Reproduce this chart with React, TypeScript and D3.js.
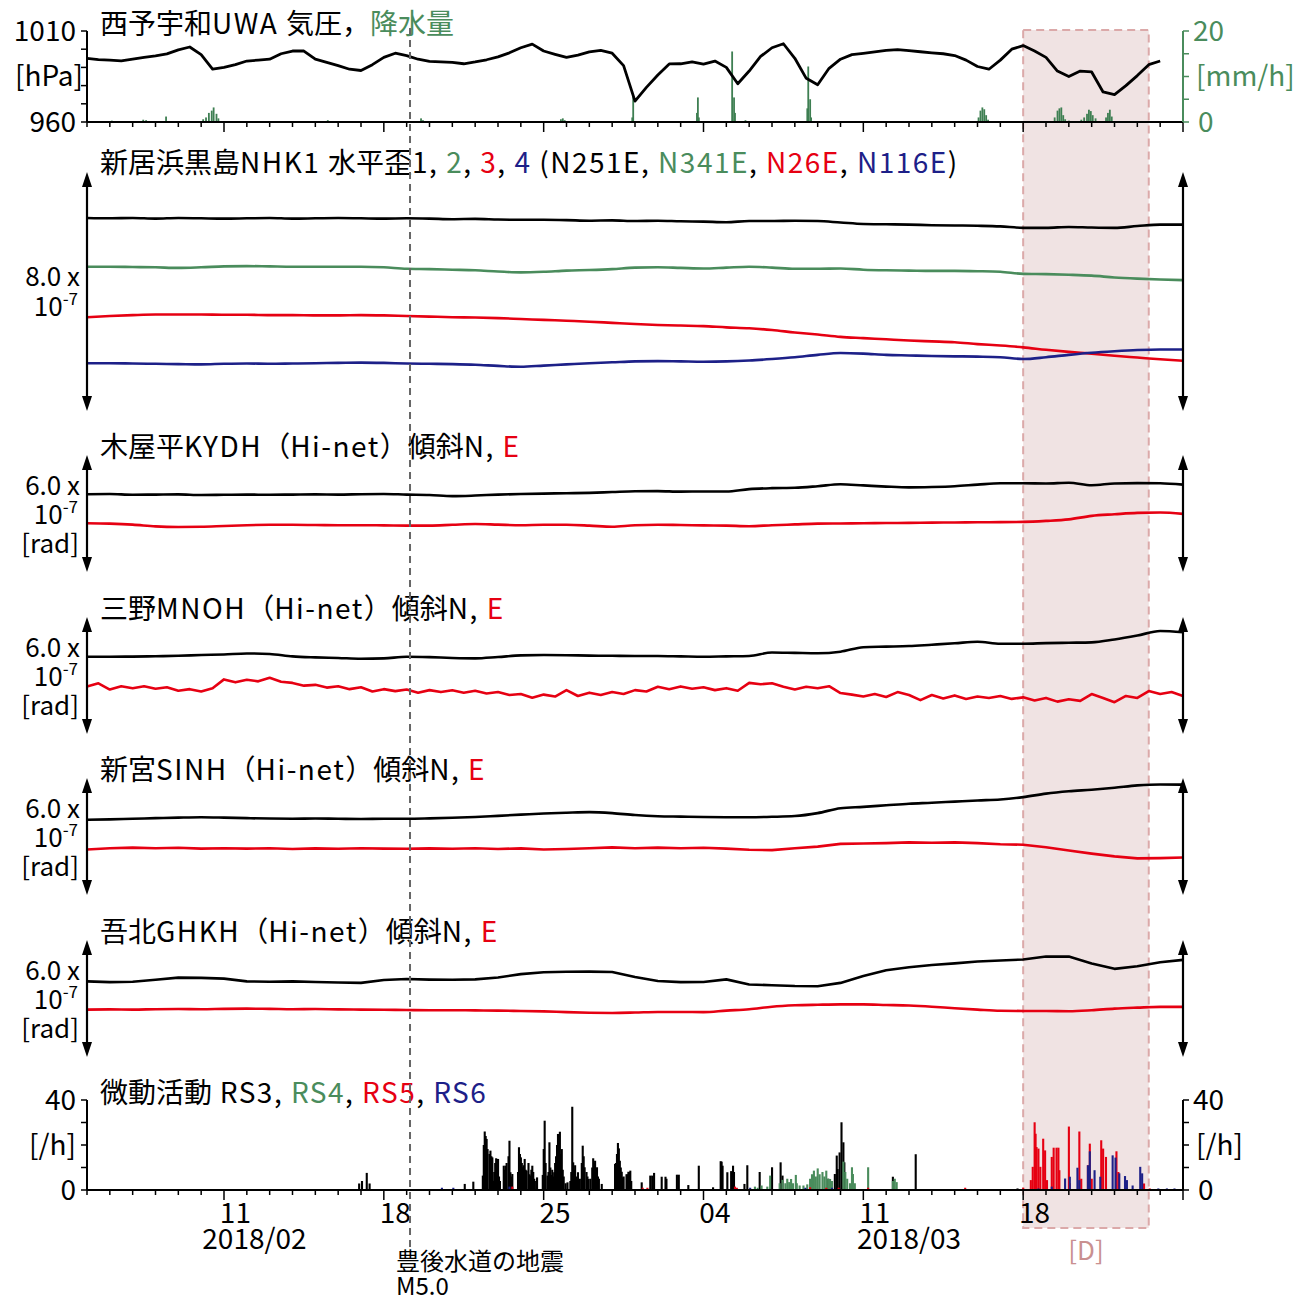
import React from "react";
import * as d3 from "d3";

const FONT = "'Noto Sans CJK JP', 'Noto Sans CJK SC', 'Noto Sans', sans-serif";
const BLACK = "#000000";
const GREEN = "#4a8c5c";
const RAIN_GREEN = "#3e7f52";
const RED = "#e60012";
const BLUE = "#1d2088";
const D_COLOR = "#c99090";

// time axis
const START = "2018-02-05T00:00:00Z";
const END = "2018-03-25T00:00:00Z";
const QUAKE = "2018-02-19T03:31:00Z";
const BOX_D_START = "2018-03-18T00:00:00Z";
const BOX_D_END = "2018-03-23T12:00:00Z";
const MONTH_LABELS = [
  { text: "2018/02", at: "2018-02-12T08:00:00Z" },
  { text: "2018/03", at: "2018-03-13T00:00:00Z" },
];

// 西予宇和 気圧 [hPa], every 12 h from 2018-02-05 00:00
const pressure12h = [
  995.0, 994.3, 994.0, 993.6, 994.5, 995.5, 996.3, 997.4, 999.6, 1001.2,
  997.0, 989.0, 990.0, 991.5, 993.5, 994.0, 994.5, 997.5, 999.0, 999.0,
  994.5, 992.8, 991.0, 989.0, 988.3, 991.5, 995.5, 997.8, 996.5, 994.5,
  993.3, 993.0, 992.8, 992.0, 993.0, 994.2, 995.8, 998.0, 1000.8, 1002.8,
  999.0, 997.2, 995.5, 996.8, 998.5, 999.3, 997.8, 991.0, 971.5, 979.0,
  985.8, 991.9, 992.0, 993.0, 991.8, 993.5, 990.0, 981.0, 988.0, 996.0,
  1000.8, 1003.0, 995.0, 984.0, 980.5, 989.5, 994.5, 997.0, 997.7, 998.5,
  999.3, 999.8, 999.2, 998.6, 998.0, 997.5, 996.5, 994.0, 990.5, 989.0,
  994.0, 1000.0, 1002.0, 999.0, 995.5, 988.0, 985.0, 988.0, 987.5, 976.5,
  975.0, 980.0, 985.5, 991.5, 993.5,
];

// 降水量 [mm/h]: [hour since start, value]
const rainfall: [number, number][] = [
  [26, 0.3], [59, 0.5], [62, 0.4], [83, 1.2], [122, 0.6], [125, 1.0], [128, 2.0], [131, 2.5],
  [133, 3.2], [136, 1.8], [138, 0.8], [205, 0.2], [253, 0.4], [351, 0.8], [353, 0.4],
  [498, 0.6], [500, 0.8], [502, 0.4], [573, 1.0], [574, 5.6], [641, 2.0], [642, 5.4], [643, 1.0],
  [678, 15.5], [680, 5.4], [681, 2.0], [692, 0.4], [757, 3.0], [758, 12.2], [760, 5.0], [761, 1.0],
  [937, 1.0], [939, 2.5], [941, 3.2], [943, 2.8], [945, 1.5], [947, 0.5],
  [1017, 1.0], [1020, 2.5], [1022, 3.0], [1024, 3.2], [1026, 1.5], [1028, 0.6], [1032, 0.3],
  [1045, 0.5], [1048, 1.0], [1051, 1.8], [1053, 2.7], [1055, 2.4], [1057, 1.5], [1060, 0.8],
  [1071, 1.0], [1073, 2.0], [1075, 2.7], [1077, 1.2],
];

// 新居浜黒島 水平歪 (x 1e-7, relative), daily
const strain1 = [
  6.46, 6.45, 6.46, 6.44, 6.46, 6.45, 6.44, 6.45, 6.46, 6.44,
  6.45, 6.46, 6.45, 6.44, 6.45, 6.44, 6.42, 6.43, 6.41, 6.40,
  6.40, 6.39, 6.37, 6.38, 6.36, 6.37, 6.35, 6.34, 6.32, 6.36,
  6.36, 6.37, 6.36, 6.31, 6.26, 6.25, 6.24, 6.22, 6.21, 6.20,
  6.18, 6.13, 6.13, 6.16, 6.14, 6.13, 6.19, 6.24, 6.24,
];
const strain2 = [
  4.83, 4.83, 4.82, 4.81, 4.79, 4.81, 4.84, 4.85, 4.84, 4.83,
  4.83, 4.83, 4.83, 4.81, 4.76, 4.75, 4.73, 4.71, 4.67, 4.64,
  4.66, 4.70, 4.72, 4.75, 4.80, 4.81, 4.79, 4.77, 4.80, 4.83,
  4.80, 4.76, 4.76, 4.77, 4.73, 4.71, 4.70, 4.69, 4.69, 4.68,
  4.66, 4.59, 4.58, 4.56, 4.53, 4.47, 4.43, 4.40, 4.38,
];
const strain3 = [
  3.14, 3.18, 3.21, 3.23, 3.23, 3.23, 3.22, 3.22, 3.21, 3.21,
  3.20, 3.20, 3.21, 3.20, 3.18, 3.16, 3.14, 3.13, 3.11, 3.08,
  3.05, 3.02, 2.99, 2.95, 2.91, 2.88, 2.86, 2.84, 2.80, 2.77,
  2.71, 2.63, 2.56, 2.48, 2.44, 2.40, 2.36, 2.33, 2.30, 2.24,
  2.19, 2.13, 2.05, 1.98, 1.92, 1.85, 1.79, 1.73, 1.68,
];
const strain4 = [
  1.60, 1.60, 1.59, 1.58, 1.57, 1.56, 1.58, 1.59, 1.58, 1.59,
  1.60, 1.61, 1.62, 1.61, 1.59, 1.58, 1.57, 1.55, 1.51, 1.48,
  1.52, 1.56, 1.60, 1.63, 1.66, 1.67, 1.66, 1.65, 1.66, 1.69,
  1.74, 1.80, 1.88, 1.94, 1.92, 1.88, 1.86, 1.84, 1.83, 1.82,
  1.80, 1.74, 1.80, 1.88, 1.95, 2.00, 2.04, 2.06, 2.06,
];

// Hi-net 傾斜 (x 1e-7 rad, relative), daily
const kydhN = [
  3.99, 4.00, 3.96, 3.97, 3.98, 3.95, 3.96, 3.97, 3.96, 3.97,
  3.98, 3.97, 3.99, 4.00, 3.97, 3.95, 3.89, 3.92, 3.97, 4.00,
  4.02, 4.04, 4.06, 4.10, 4.14, 4.15, 4.12, 4.13, 4.13, 4.25,
  4.30, 4.32, 4.40, 4.50, 4.44, 4.38, 4.34, 4.36, 4.40, 4.48,
  4.55, 4.55, 4.54, 4.58, 4.45, 4.54, 4.56, 4.55, 4.48,
];
const kydhE = [
  2.50, 2.48, 2.43, 2.34, 2.31, 2.32, 2.36, 2.40, 2.42, 2.42,
  2.41, 2.40, 2.40, 2.39, 2.38, 2.38, 2.42, 2.46, 2.43, 2.40,
  2.42, 2.42, 2.38, 2.32, 2.40, 2.42, 2.41, 2.39, 2.38, 2.35,
  2.40, 2.44, 2.48, 2.49, 2.50, 2.51, 2.52, 2.53, 2.54, 2.55,
  2.56, 2.57, 2.62, 2.70, 2.88, 2.96, 3.03, 3.05, 2.98,
];
const mnohN = [
  3.96, 3.96, 3.97, 3.99, 4.01, 4.05, 4.08, 4.13, 4.10, 3.98,
  3.93, 3.90, 3.86, 3.88, 3.96, 3.94, 3.90, 3.88, 3.95, 4.03,
  4.05, 4.04, 4.02, 4.01, 4.00, 4.00, 3.98, 3.96, 3.98, 4.00,
  4.18, 4.16, 4.14, 4.22, 4.45, 4.48, 4.51, 4.58, 4.65, 4.73,
  4.63, 4.63, 4.66, 4.68, 4.70, 4.85, 5.05, 5.28, 5.22,
];
// 三野 E, every 12 h
const mnohE12h = [
  2.43, 2.60, 2.28, 2.45, 2.35, 2.45, 2.32, 2.40, 2.22, 2.30,
  2.18, 2.35, 2.80, 2.65, 2.78, 2.70, 2.88, 2.68, 2.62, 2.48,
  2.52, 2.38, 2.45, 2.30, 2.40, 2.18, 2.30, 2.20, 2.28, 2.12,
  2.25, 2.15, 2.24, 2.12, 2.22, 2.08, 2.15, 2.00, 2.05, 1.86,
  2.02, 1.92, 2.25, 1.95, 2.12, 2.00, 2.15, 2.05, 2.25, 2.18,
  2.42, 2.30, 2.44, 2.32, 2.40, 2.25, 2.35, 2.22, 2.62, 2.55,
  2.60, 2.42, 2.28, 2.42, 2.35, 2.45, 2.10, 2.02, 1.92, 2.05,
  1.90, 2.15, 2.00, 1.74, 2.00, 1.82, 1.98, 1.80, 1.92, 1.85,
  1.95, 1.80, 1.88, 1.72, 1.85, 1.66, 1.78, 1.70, 2.05, 1.85,
  1.63, 1.95, 1.85, 2.20, 2.05, 2.15, 1.95,
];
const sinhN = [
  3.86, 3.88, 3.91, 3.94, 3.97, 3.99, 3.97, 3.94, 3.92, 3.91,
  3.92, 3.91, 3.90, 3.91, 3.91, 3.93, 3.96, 4.00, 4.06, 4.12,
  4.18, 4.22, 4.25, 4.20, 4.10, 4.04, 4.02, 4.00, 3.99, 3.99,
  4.01, 4.05, 4.20, 4.45, 4.52, 4.60, 4.68, 4.73, 4.79, 4.85,
  4.90, 5.02, 5.20, 5.32, 5.40, 5.50, 5.62, 5.67, 5.66,
];
const sinhE = [
  2.33, 2.40, 2.43, 2.40, 2.42, 2.38, 2.40, 2.38, 2.40, 2.36,
  2.39, 2.37, 2.40, 2.38, 2.37, 2.39, 2.37, 2.40, 2.36, 2.39,
  2.33, 2.36, 2.40, 2.44, 2.40, 2.43, 2.40, 2.42, 2.38, 2.32,
  2.30, 2.40, 2.48, 2.62, 2.64, 2.66, 2.70, 2.68, 2.70, 2.66,
  2.60, 2.58, 2.45, 2.28, 2.12, 1.98, 1.88, 1.89, 1.92,
];
const ghkhN = [
  3.88, 3.84, 3.86, 3.96, 4.07, 4.06, 4.02, 3.88, 3.86, 3.88,
  3.85, 3.82, 3.80, 3.95, 4.00, 3.97, 3.96, 3.98, 4.08, 4.25,
  4.35, 4.37, 4.38, 4.36, 4.10, 3.90, 3.84, 3.85, 3.98, 3.72,
  3.68, 3.64, 3.63, 3.80, 4.15, 4.45, 4.60, 4.72, 4.80, 4.90,
  4.95, 5.00, 5.15, 5.15, 4.80, 4.52, 4.65, 4.86, 4.98,
];
const ghkhE = [
  2.43, 2.44, 2.43, 2.45, 2.46, 2.45, 2.47, 2.48, 2.47, 2.45,
  2.46, 2.44, 2.43, 2.42, 2.41, 2.40, 2.40, 2.39, 2.38, 2.36,
  2.34, 2.30, 2.27, 2.26, 2.28, 2.31, 2.31, 2.30, 2.38, 2.45,
  2.58, 2.65, 2.68, 2.70, 2.70, 2.67, 2.64, 2.58, 2.50, 2.43,
  2.37, 2.36, 2.36, 2.35, 2.40, 2.48, 2.53, 2.57, 2.57,
];

// 微動活動 [/h]: [hour since start, count]
const rs3: [number, number][] = [
  [286, 2.9], [289, 4.0], [294, 7.6], [297, 2.9],
  [397, 2.7], [406, 3.7], [416, 6.4], [417, 20], [418, 26], [419, 24], [420, 22.7], [421, 18.2], [423, 16],
  [424, 17.5], [425, 15], [426, 14.5], [427, 4.1], [428, 8], [429, 12], [430, 14.1], [431, 10], [432, 13.8],
  [433, 6], [434, 4],
  [438, 10.8], [439, 9], [440, 10.8], [441, 12], [443, 15], [444, 21.9], [445, 7.9], [446, 6], [447, 7.1],
  [453, 8], [454, 19], [455, 16], [456, 14.5], [457, 12], [458, 10.1], [459, 11], [460, 13.8], [461, 9],
  [462, 8.6], [464, 12], [465, 7], [466, 6.4], [467, 9], [468, 10.8], [469, 8], [470, 5], [472, 4], [473, 5.6],
  [479, 6.7], [480, 18.2], [481, 30.8], [482, 12], [484, 6.4], [485, 8], [486, 21.2], [487, 10], [488, 6.7],
  [489, 9], [490, 6], [491, 7.9], [492, 12], [493, 15], [494, 20], [495, 24.9], [496, 22], [497, 25.9],
  [498, 16], [499, 18.2], [500, 9], [501, 6], [503, 3],
  [505, 3.4], [508, 4], [509, 8], [510, 37], [511, 12.3], [512, 9], [513, 11], [515, 6], [516, 7.9], [518, 5],
  [520, 12], [521, 19.7], [522, 15], [523, 10.1], [525, 8], [526, 6], [527, 4.9], [529, 5], [531, 10],
  [532, 14.1], [533, 12], [534, 13], [535, 9], [536, 10.1], [537, 6], [538, 5], [541, 2.7],
  [555, 11.6], [556, 12], [557, 16], [558, 20.9], [559, 18.5], [560, 13], [561, 10], [562, 8.1], [563, 5.6],
  [564, 6], [567, 7], [568, 7], [569, 8.1], [570, 8], [571, 8.6], [572, 4],
  [583, 3.4], [592, 6.4], [594, 6.4], [596, 7.6], [604, 5.9], [608, 5.9], [609, 5], [620, 6.8], [622, 6.8],
  [632, 2.2], [643, 10.8], [658, 1.2], [666, 12.8], [667, 12.6], [668, 10.8], [673, 7.9], [677, 8.4],
  [679, 10.8], [680, 8], [691, 2.7], [694, 11], [707, 8], [720, 10.1], [729, 12.3], [731, 6.4],
  [779, 5], [786, 7.1], [788, 15.3], [789, 9.3], [791, 16.7], [793, 30.1], [795, 21.2], [796, 12.3],
  [847, 5.9], [871, 15.9], [978, 0.7],
];
const rs4: [number, number][] = [
  [702, 1.5], [705, 1], [709, 2], [715, 1.5], [718, 6.4], [728, 3], [731, 4.5], [734, 3], [736, 5],
  [738, 3.5], [740, 4.9], [742, 3], [745, 6.7], [746, 3], [749, 2], [753, 2], [757, 2.5], [760, 5],
  [762, 7], [764, 8.6], [766, 6], [768, 9.6], [770, 7], [773, 8], [775, 6], [777, 8.6], [779, 5],
  [781, 4.9], [783, 4], [795, 12.6], [797, 8], [799, 5], [802, 3], [804, 10.1], [805, 7.1], [807, 3],
  [821, 10.1], [847, 4], [849, 5], [851, 3.5],
];
const rs5: [number, number][] = [
  [447, 1.5], [584, 1], [589, 1], [681, 1.5], [683, 1], [760, 1.2], [777, 1], [790, 1], [821, 1],
  [923, 1], [984, 1],
  [992, 4.4], [994, 10.3], [996, 30.1], [997, 25], [998, 19.1], [1000, 18.4], [1002, 10.3], [1005, 22.8],
  [1007, 17.6], [1009, 4.4], [1014, 14.7], [1016, 18.8], [1019, 18.8], [1021, 18.8], [1022, 8.8],
  [1032, 28.2], [1033, 3], [1043, 26], [1045, 5], [1052, 11], [1054, 20.6], [1056, 5], [1066, 22.1],
  [1068, 18.4], [1071, 14.7], [1082, 17.2], [1084, 8], [1111, 2.9], [1117, 0.7],
];
const rs6: [number, number][] = [
  [373, 1], [385, 1], [444, 1.5], [697, 1], [755, 1], [783, 1],
  [1000, 0.7], [1014, 1.5], [1028, 5.1], [1033, 5.9], [1041, 9.9], [1043, 4.4], [1052, 11], [1054, 17.2],
  [1059, 8.8], [1065, 5.9], [1078, 15.4], [1081, 14.4], [1085, 7.4], [1091, 6.2], [1093, 4.4], [1099, 2],
  [1107, 10.3], [1109, 7.4], [1126, 0.7], [1135, 0.7], [1143, 0.7],
];

type Seg = { t: string; c: string };

const CJK_RUN = /[\u3000-\u9fff\uff00-\uffef]+|[^\u3000-\u9fff\uff00-\uffef]+/g;
const isCJK = (s: string) => /[\u3000-\u9fff\uff00-\uffef]/.test(s);

function Title({ y, segs }: { y: number; segs: Seg[] }) {
  const runs: { t: string; c: string; cjk: boolean }[] = [];
  segs.forEach((s) => {
    (s.t.match(CJK_RUN) || []).forEach((r) => runs.push({ t: r, c: s.c, cjk: isCJK(r) }));
  });
  return (
    <text x={100} y={y} fontSize={28} fontFamily={FONT} style={{ whiteSpace: "pre" }}>
      {runs.map((r, i) => (
        <tspan key={i} fill={r.c} letterSpacing={r.cjk ? 0 : 1.5}>
          {r.t}
        </tspan>
      ))}
    </text>
  );
}

function Arrow({ x, y1, y2 }: { x: number; y1: number; y2: number }) {
  const h = 15;
  const w = 5;
  return (
    <g>
      <line x1={x} x2={x} y1={y1 + 6} y2={y2 - 6} stroke={BLACK} strokeWidth={2.2} />
      <polygon points={`${x},${y1} ${x - w},${y1 + h} ${x + w},${y1 + h}`} fill={BLACK} />
      <polygon points={`${x},${y2} ${x - w},${y2 - h} ${x + w},${y2 - h}`} fill={BLACK} />
    </g>
  );
}

export default function App() {
  const t0 = new Date(START).getTime();
  const tEnd = new Date(END).getTime();
  const x = d3.scaleUtc().domain([new Date(t0), new Date(tEnd)]).range([87, 1183]);
  const atStep = (step: number) => (_: number, i: number) => x(new Date(t0 + i * step));
  const hourX = (h: number) => x(new Date(t0 + h * 3600000));
  const DAY = 86400000;

  const yP = d3.scaleLinear().domain([960, 1010]).range([122, 31]);
  const yR = d3.scaleLinear().domain([0, 20]).range([122, 31]);
  const yS = d3.scaleLinear().domain([0, 8]).range([411, 172]);
  const yQ = d3.scaleLinear().domain([0, 40]).range([1190, 1100]);

  const mkPath = (vals: number[], y: d3.ScaleLinear<number, number>, step: number, curve: d3.CurveFactory) =>
    d3.line<number>().x(atStep(step)).y((v) => y(v)).curve(curve)(vals) || "";

  const days = d3.utcDay.range(new Date(t0), new Date(tEnd + 1));
  const weeks = d3.utcSunday.range(new Date(t0), new Date(tEnd + 1));
  const weekSet = new Set(weeks.map((w) => w.getTime()));
  const fmtDay = d3.utcFormat("%d");

  const tilt = [
    { top: 455, name: "木屋平KYDH（Hi-net）傾斜N, ", n: kydhN, e: kydhE, eStep: DAY, nCurve: d3.curveMonotoneX, eCurve: d3.curveMonotoneX },
    { top: 617, name: "三野MNOH（Hi-net）傾斜N, ", n: mnohN, e: mnohE12h, eStep: DAY / 2, nCurve: d3.curveMonotoneX, eCurve: d3.curveLinear },
    { top: 778, name: "新宮SINH（Hi-net）傾斜N, ", n: sinhN, e: sinhE, eStep: DAY, nCurve: d3.curveMonotoneX, eCurve: d3.curveLinear },
    { top: 940, name: "吾北GHKH（Hi-net）傾斜N, ", n: ghkhN, e: ghkhE, eStep: DAY, nCurve: d3.curveLinear, eCurve: d3.curveMonotoneX },
  ];

  const xD1 = x(new Date(BOX_D_START));
  const xD2 = x(new Date(BOX_D_END));
  const xQ = x(new Date(QUAKE));

  const bottomAxis = (y: number, key: string) => (
    <g key={key}>
      {days.map((d) => {
        const major = weekSet.has(d.getTime());
        return (
          <line key={d.getTime()} x1={x(d)} x2={x(d)} y1={y} y2={y + (major ? 10 : 5)} stroke={BLACK} strokeWidth={1.5} />
        );
      })}
      <line x1={87} x2={1183} y1={y} y2={y} stroke={BLACK} strokeWidth={2.2} />
    </g>
  );

  const bars = (data: [number, number][], color: string, key: string) => (
    <g key={key}>
      {data.map(([h, c], i) => (
        <rect key={i} x={hourX(h) - 1} width={2.1} y={yQ(c)} height={yQ(0) - yQ(c)} fill={color} />
      ))}
    </g>
  );

  const tickFont = { fontSize: 28, fontFamily: FONT };
  const sideFont = { fontSize: 26, fontFamily: FONT };

  return (
    <svg
      width={1301}
      height={1304}
      viewBox="0 0 1301 1304"
      style={{ position: "absolute", left: 0, top: 0, background: "#fff" }}
    >
      <rect x={0} y={0} width={1301} height={1304} fill="#fff" />

      {/* box D */}
      <rect
        x={xD1}
        y={30}
        width={xD2 - xD1}
        height={1198}
        fill="#f0e3e3"
        stroke="#dba9a9"
        strokeWidth={2}
        strokeDasharray="8 5"
      />

      {/* Panel 1: pressure & rain */}
      <Title y={34} segs={[{ t: "西予宇和UWA 気圧，", c: BLACK }, { t: "降水量", c: GREEN }]} />
      {rainfall.map(([h, v], i) => (
        <rect key={i} x={hourX(h) - 0.8} width={1.8} y={yR(v)} height={yR(0) - yR(v)} fill={RAIN_GREEN} />
      ))}
      <path d={mkPath(pressure12h, yP, DAY / 2, d3.curveLinear)} fill="none" stroke={BLACK} strokeWidth={2.8} strokeLinejoin="round" />
      {bottomAxis(122, "ax1")}
      <line x1={87} x2={87} y1={31} y2={122} stroke={BLACK} strokeWidth={2} />
      {[960, 970, 980, 990, 1000, 1010].map((v) => (
        <line key={v} x1={81} x2={87} y1={yP(v)} y2={yP(v)} stroke={BLACK} strokeWidth={1.5} />
      ))}
      <line x1={1183} x2={1183} y1={31} y2={122} stroke={GREEN} strokeWidth={2} />
      {[0, 5, 10, 15, 20].map((v) => (
        <line key={v} x1={1183} x2={1189} y1={yR(v)} y2={yR(v)} stroke={GREEN} strokeWidth={1.5} />
      ))}
      <text x={76} y={41} textAnchor="end" {...tickFont}>1010</text>
      <text x={83} y={86} textAnchor="end" {...tickFont}>[hPa]</text>
      <text x={76} y={132} textAnchor="end" {...tickFont}>960</text>
      <text x={1193} y={41} fill={GREEN} {...tickFont}>20</text>
      <text x={1196} y={86} fill={GREEN} {...tickFont}>[mm/h]</text>
      <text x={1198} y={132} fill={GREEN} {...tickFont}>0</text>

      {/* Panel 2: strain */}
      <Title
        y={173}
        segs={[
          { t: "新居浜黒島NHK1 水平歪1, ", c: BLACK },
          { t: "2", c: GREEN },
          { t: ", ", c: BLACK },
          { t: "3", c: RED },
          { t: ", ", c: BLACK },
          { t: "4", c: BLUE },
          { t: " (N251E, ", c: BLACK },
          { t: "N341E", c: GREEN },
          { t: ", ", c: BLACK },
          { t: "N26E", c: RED },
          { t: ", ", c: BLACK },
          { t: "N116E", c: BLUE },
          { t: ")", c: BLACK },
        ]}
      />
      {[
        { v: strain1, c: BLACK },
        { v: strain2, c: GREEN },
        { v: strain3, c: RED },
        { v: strain4, c: BLUE },
      ].map((s, i) => (
        <path key={i} d={mkPath(s.v, yS, DAY, d3.curveMonotoneX)} fill="none" stroke={s.c} strokeWidth={2.6} />
      ))}
      <Arrow x={87} y1={172} y2={411} />
      <Arrow x={1183} y1={172} y2={411} />
      <text x={80} y={286} textAnchor="end" {...sideFont}>8.0 x</text>
      <text x={78} y={316} textAnchor="end" {...sideFont}>
        10<tspan fontSize={17} dy={-11}>-7</tspan>
      </text>

      {/* Tilt panels */}
      {tilt.map((p, k) => {
        const y = d3.scaleLinear().domain([0, 6]).range([p.top + 117, p.top]);
        return (
          <g key={k}>
            <Title y={p.top + 2} segs={[{ t: p.name, c: BLACK }, { t: "E", c: RED }]} />
            <path d={mkPath(p.n, y, DAY, p.nCurve)} fill="none" stroke={BLACK} strokeWidth={2.6} strokeLinejoin="round" />
            <path d={mkPath(p.e, y, p.eStep, p.eCurve)} fill="none" stroke={RED} strokeWidth={2.6} strokeLinejoin="round" />
            <Arrow x={87} y1={p.top} y2={p.top + 117} />
            <Arrow x={1183} y1={p.top} y2={p.top + 117} />
            <text x={80} y={p.top + 40} textAnchor="end" {...sideFont}>6.0 x</text>
            <text x={78} y={p.top + 69} textAnchor="end" {...sideFont}>
              10<tspan fontSize={17} dy={-11}>-7</tspan>
            </text>
            <text x={79} y={p.top + 98} textAnchor="end" {...sideFont}>[rad]</text>
          </g>
        );
      })}

      {/* Tremor panel */}
      <Title
        y={1103}
        segs={[
          { t: "微動活動 RS3, ", c: BLACK },
          { t: "RS4", c: GREEN },
          { t: ", ", c: BLACK },
          { t: "RS5", c: RED },
          { t: ", ", c: BLACK },
          { t: "RS6", c: BLUE },
        ]}
      />
      {bars(rs3, BLACK, "rs3")}
      {bars(rs4, GREEN, "rs4")}
      {bars(rs5, RED, "rs5")}
      {bars(rs6, BLUE, "rs6")}
      {bottomAxis(1190, "ax2")}
      <line x1={87} x2={87} y1={1100} y2={1190} stroke={BLACK} strokeWidth={2} />
      <line x1={1183} x2={1183} y1={1100} y2={1190} stroke={BLACK} strokeWidth={2} />
      {[0, 10, 20, 30, 40].map((v) => (
        <g key={v}>
          <line x1={81} x2={87} y1={yQ(v)} y2={yQ(v)} stroke={BLACK} strokeWidth={1.5} />
          <line x1={1183} x2={1189} y1={yQ(v)} y2={yQ(v)} stroke={BLACK} strokeWidth={1.5} />
        </g>
      ))}
      <text x={76} y={1110} textAnchor="end" {...tickFont}>40</text>
      <text x={76} y={1155} textAnchor="end" {...tickFont}>[/h]</text>
      <text x={76} y={1200} textAnchor="end" {...tickFont}>0</text>
      <text x={1193} y={1110} {...tickFont}>40</text>
      <text x={1196} y={1155} {...tickFont}>[/h]</text>
      <text x={1198} y={1200} {...tickFont}>0</text>

      {weeks
        .filter((w) => w.getTime() < tEnd)
        .map((w) => (
          <text key={w.getTime()} x={x(new Date(w.getTime() + DAY / 2))} y={1223} textAnchor="middle" {...tickFont}>
            {fmtDay(w)}
          </text>
        ))}
      {MONTH_LABELS.map((m) => (
        <text key={m.text} x={x(new Date(m.at))} y={1249} textAnchor="middle" {...tickFont}>
          {m.text}
        </text>
      ))}

      {/* earthquake */}
      <line x1={xQ} x2={xQ} y1={28} y2={1248} stroke="#666" strokeWidth={2} strokeDasharray="7 5" />
      <text x={396} y={1270} fontSize={24} fontFamily={FONT}>豊後水道の地震</text>
      <text x={396} y={1295} fontSize={24} fontFamily={FONT}>M5.0</text>

      <text x={(xD1 + xD2) / 2} y={1260} textAnchor="middle" fontSize={26} fontFamily={FONT} fill={D_COLOR}>
        [D]
      </text>
    </svg>
  );
}
